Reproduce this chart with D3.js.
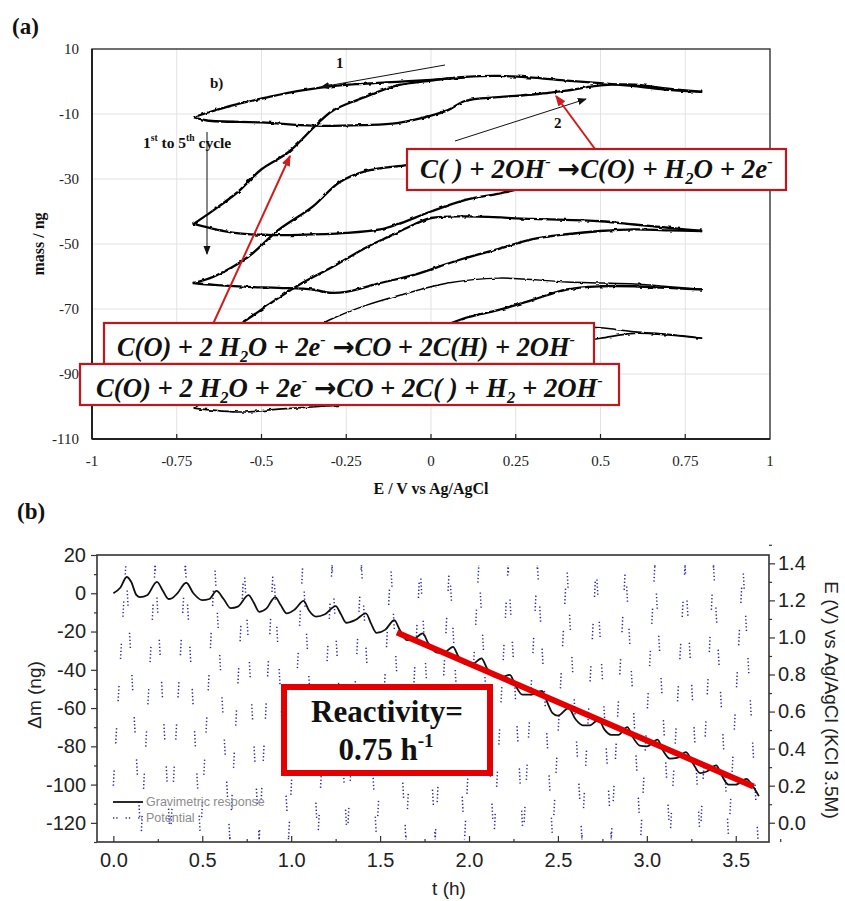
<!DOCTYPE html>
<html>
<head>
<meta charset="utf-8">
<script src="https://cdn.jsdelivr.net/npm/d3@7"></script>
<style>
  body { margin: 0; background: #fff; }
  svg { display: block; }
</style>
</head>
<body>
<svg id="fig" width="845" height="901"></svg>
<script>
// ---------------- panel (a): EQCM cyclic voltammetry, mass vs potential ----------------
const eTicksA = [-1, -0.75, -0.5, -0.25, 0, 0.25, 0.5, 0.75, 1];
const eTickLabelsA = ['-1', '-0.75', '-0.5', '-0.25', '0', '0.25', '0.5', '0.75', '1'];
const massTicksA = [-110, -90, -70, -50, -30, -10, 10];

// each sweep is a list of [E (V), mass (ng)]
const sweepStart = [[0.1,1.2],[0,0.5],[-0.1,-0.1],[-0.2,-0.7],[-0.29,-1.4],[-0.39,-2.9],[-0.48,-4.8],[-0.58,-7.2],[-0.65,-9.3],[-0.7,-11]];
const sweep1Up = [[-0.7,-11],[-0.66,-12],[-0.5,-12.6],[-0.35,-13.6],[-0.2,-13.4],[-0.1,-12.8],[0,-10.5],[0.05,-8.8],[0.1,-6],[0.2,-4.8],[0.3,-4],[0.4,-2.8],[0.5,-1.2],[0.6,-1],[0.7,-2.2],[0.8,-3.2]];
const sweep1Down = [[0.8,-3.2],[0.7,-2.6],[0.6,-1.4],[0.5,-0.5],[0.4,0.3],[0.3,1.2],[0.2,1.7],[0.1,1.4],[0,0.3],[-0.1,-1.2],[-0.2,-5],[-0.29,-9],[-0.34,-13.5],[-0.42,-21.7],[-0.5,-27],[-0.57,-34],[-0.64,-39.5],[-0.7,-43.8]];
const sweep2Up = [[-0.7,-43.8],[-0.58,-46.6],[-0.48,-47.2],[-0.39,-47.2],[-0.25,-46.6],[-0.15,-45.5],[-0.1,-44],[0,-40],[0.1,-36.5],[0.2,-34.5],[0.3,-32],[0.4,-28],[0.5,-25.5],[0.6,-24],[0.7,-23.5],[0.8,-24]];
const sweep2Down = [[0.8,-24],[0.6,-22.5],[0.4,-22],[0.2,-22.5],[0.05,-24],[-0.07,-25.7],[-0.19,-27.5],[-0.27,-31],[-0.35,-38.6],[-0.45,-45.7],[-0.54,-54],[-0.64,-60],[-0.7,-62]];
const sweep3Up = [[-0.7,-62],[-0.64,-62.6],[-0.54,-63.2],[-0.45,-63.5],[-0.35,-64],[-0.3,-65],[-0.25,-64.7],[-0.15,-62],[-0.05,-59.5],[0.08,-55],[0.2,-51.5],[0.3,-48.5],[0.4,-47],[0.5,-46],[0.6,-45.5],[0.7,-45.8],[0.8,-46]];
const sweep3Down = [[0.8,-46],[0.7,-45],[0.6,-44],[0.5,-43],[0.3,-42.3],[0.1,-41.5],[0,-42],[-0.05,-44],[-0.12,-47.5],[-0.19,-51],[-0.29,-57],[-0.39,-62.6],[-0.47,-68],[-0.555,-74],[-0.63,-78],[-0.7,-81]];
const sweep4Up = [[-0.7,-81],[-0.5,-83],[-0.3,-83],[-0.15,-80],[0,-76],[0.06,-74.3],[0.1,-72.8],[0.2,-70.3],[0.3,-67.2],[0.4,-64],[0.5,-63],[0.6,-63],[0.7,-63.5],[0.8,-64]];
const sweep4Down = [[0.8,-64],[0.6,-62.3],[0.5,-62],[0.4,-61.7],[0.2,-60.5],[0.05,-62],[-0.09,-65.7],[-0.19,-68.8],[-0.3,-73.4],[-0.4,-79],[-0.5,-86],[-0.6,-94],[-0.7,-100.5]];
const sweep5Up = [[-0.7,-100.5],[-0.56,-101.7],[-0.45,-100.8],[-0.33,-100],[-0.2,-99],[-0.05,-95],[0.1,-89],[0.25,-84],[0.4,-80.5],[0.5,-79],[0.6,-77.5],[0.7,-78],[0.8,-79]];
const sweep5Down = [[0.8,-79],[0.7,-77.8],[0.6,-77],[0.5,-75.8],[0.4,-75.3],[0.25,-75.5]];

// ---------------- panel (b): mass and potential vs time ----------------
const tTicksB = [0, 0.5, 1, 1.5, 2, 2.5, 3, 3.5];
const massTicksB = [-120, -100, -80, -60, -40, -20, 0, 20];
const eTicksB = [0, 0.2, 0.4, 0.6, 0.8, 1.0, 1.2, 1.4];

const gravTime = [0,0.04,0.075,0.1,0.13,0.15,0.19,0.245,0.28,0.31,0.33,0.36,0.41,0.45,0.5,0.54,0.58,0.62,0.66,0.7,0.76,0.79,0.82,0.86,0.91,0.94,0.975,1.02,1.07,1.1,1.14,1.19,1.25,1.28,1.31,1.36,1.42,1.45,1.48,1.53,1.58,1.61,1.65,1.69,1.74,1.77,1.82,1.86,1.91,1.94,1.98,2.02,2.07,2.1,2.14,2.18,2.23,2.26,2.3,2.35,2.41,2.44,2.47,2.5,2.56,2.6,2.64,2.68,2.73,2.76,2.8,2.84,2.89,2.92,2.96,3.0,3.06,3.09,3.13,3.17,3.22,3.26,3.3,3.34,3.39,3.42,3.46,3.5,3.56,3.59,3.63];
const gravMass = [0,3,8.5,6,-1,-2,-1,6,1,-3,-2.6,0,5.5,0,-3.6,-3,1.2,-3,-7.8,-7,-1,-5,-9.7,-8,-2,-6,-10.5,-8.5,-4,-9,-12.2,-11,-6.7,-11,-15.4,-14,-10.5,-16,-20.7,-19,-14,-19,-24.5,-24,-21,-26,-31,-31,-28,-33,-37,-37,-34,-39,-43.5,-44,-42.6,-48,-53,-53,-51,-57,-62.6,-64,-60,-66,-69,-69,-66,-71,-74,-74,-70,-75,-79.6,-80,-76.5,-82,-86.4,-86,-83,-89,-94,-93,-90,-95,-100,-100,-97,-100,-106];

// triangular potential program: turning points
const potentialTime = [0,0.07,0.155,0.235,0.32,0.405,0.49,0.57,0.655,0.735,0.82,0.9,0.985,1.065,1.15,1.23,1.315,1.395,1.48,1.56,1.645,1.725,1.81,1.89,1.975,2.055,2.14,2.22,2.305,2.385,2.47,2.55,2.635,2.715,2.8,2.88,2.965,3.045,3.13,3.215,3.3,3.375,3.46,3.54,3.625];
const potentialE = [0.2,1.39,-0.09,1.39,-0.09,1.39,-0.09,1.39,-0.09,1.39,-0.09,1.39,-0.09,1.39,-0.09,1.39,-0.09,1.39,-0.09,1.39,-0.09,1.39,-0.09,1.39,-0.09,1.39,-0.09,1.39,-0.09,1.39,-0.09,1.39,-0.09,1.39,-0.09,1.39,-0.09,1.39,-0.09,1.39,-0.09,1.39,-0.09,1.39,-0.09];

const fitStart = [1.595, -20.5];
const fitEnd = [3.6, -101];

// ---------------------------------------------------------------------
const svg = d3.select('#fig');
const SERIF = "'Liberation Serif', 'Times New Roman', serif";
const SANS = "'Liberation Sans', Arial, sans-serif";
const SYMBOL = "'DejaVu Sans', sans-serif";

const defs = svg.append('defs');
// rough trace look for the microbalance curves
const jitter = defs.append('filter').attr('id', 'jitter')
  .attr('filterUnits', 'userSpaceOnUse').attr('x', 80).attr('y', 40).attr('width', 700).attr('height', 410);
jitter.append('feTurbulence').attr('type', 'fractalNoise').attr('baseFrequency', 0.22)
  .attr('numOctaves', 1).attr('seed', 7).attr('result', 'n');
jitter.append('feDisplacementMap').attr('in', 'SourceGraphic').attr('in2', 'n')
  .attr('scale', 3).attr('xChannelSelector', 'R').attr('yChannelSelector', 'G');

function arrowHead(id, color, size) {
  defs.append('marker').attr('id', id).attr('viewBox', '0 0 10 10')
    .attr('refX', 9).attr('refY', 5).attr('markerWidth', size).attr('markerHeight', size)
    .attr('markerUnits', 'userSpaceOnUse').attr('orient', 'auto')
    .append('path').attr('d', 'M0,1 L10,5 L0,9 Z').attr('fill', color);
}
arrowHead('headBlack', '#111', 9);
arrowHead('headRed', '#d01c1c', 11);

// rich text: parts are strings or ['sup'|'sub'|'sym', text]
function richText(g, x, y, parts, size, attrs) {
  const t = g.append('text').attr('x', x).attr('y', y).attr('font-size', size);
  Object.entries(attrs).forEach(([k, v]) => t.attr(k, v));
  let shift = 0;
  parts.forEach(p => {
    if (typeof p === 'string') {
      t.append('tspan').attr('dy', -shift).text(p);
      shift = 0;
    } else if (p[0] === 'sym') {
      t.append('tspan').attr('dy', -shift).attr('font-family', SYMBOL)
        .attr('font-style', 'normal').attr('font-weight', 'bold').text(p[1]);
      shift = 0;
    } else {
      const s = p[0] === 'sup' ? -0.42 * size : 0.22 * size;
      t.append('tspan').attr('dy', s - shift).attr('font-size', size * 0.62).text(p[1]);
      shift = s;
    }
  });
  return t;
}
function fittedText(g, x, y, parts, width, attrs) {
  const probe = richText(g, x, y, parts, 24, attrs);
  const len = probe.node().getComputedTextLength();
  probe.remove();
  return richText(g, x, y, parts, 24 * width / len, attrs);
}

// ======================= panel (a) =======================
const A = { l: 92, r: 770, t: 49, b: 439 };
const xA = d3.scaleLinear().domain([-1, 1]).range([A.l, A.r]);
const yA = d3.scaleLinear().domain([-110, 10]).range([A.b, A.t]);
const gA = svg.append('g');

// grid
gA.append('g').selectAll('line').data(eTicksA.slice(1, -1)).join('line')
  .attr('x1', d => xA(d)).attr('x2', d => xA(d)).attr('y1', A.t).attr('y2', A.b)
  .attr('stroke', '#e2e2e2').attr('stroke-width', 1);
gA.append('g').selectAll('line').data(massTicksA.slice(1, -1)).join('line')
  .attr('y1', d => yA(d)).attr('y2', d => yA(d)).attr('x1', A.l).attr('x2', A.r)
  .attr('stroke', '#e2e2e2').attr('stroke-width', 1);

// curves
const cvLine = d3.line().x(d => xA(d[0])).y(d => yA(d[1])).curve(d3.curveCatmullRom.alpha(0.5));
const cvCurves = [
  { d: sweepStart, w: 2.3 }, { d: sweep1Up, w: 2.3 }, { d: sweep1Down, w: 2.3 },
  { d: sweep2Up, w: 2.3 }, { d: sweep2Down, w: 2.3 }, { d: sweep3Up, w: 2.3 },
  { d: sweep3Down, w: 2.3 }, { d: sweep4Up, w: 2.3 }, { d: sweep4Down, w: 1.5 },
  { d: sweep5Up, w: 1.6 }, { d: sweep5Down, w: 1.5 }
];
gA.append('g').attr('filter', 'url(#jitter)').selectAll('path').data(cvCurves).join('path')
  .attr('d', c => cvLine(c.d)).attr('fill', 'none').attr('stroke', '#000')
  .attr('stroke-width', c => c.w).attr('stroke-linejoin', 'round');

// frame and ticks
gA.append('rect').attr('x', A.l).attr('y', A.t).attr('width', A.r - A.l).attr('height', A.b - A.t)
  .attr('fill', 'none').attr('stroke', '#333').attr('stroke-width', 1.4);
gA.append('line').attr('x1', A.l).attr('x2', A.r).attr('y1', A.b).attr('y2', A.b).attr('stroke', '#222').attr('stroke-width', 2);
gA.append('line').attr('x1', A.l).attr('x2', A.l).attr('y1', A.t).attr('y2', A.b).attr('stroke', '#222').attr('stroke-width', 2);
gA.append('g').selectAll('line').data(eTicksA.slice(1, -1)).join('line')
  .attr('x1', d => xA(d)).attr('x2', d => xA(d)).attr('y1', A.b).attr('y2', A.b - 5)
  .attr('stroke', '#222').attr('stroke-width', 1.2);

gA.append('g').selectAll('text').data(eTicksA).join('text')
  .attr('x', d => xA(d)).attr('y', 466).attr('text-anchor', 'middle')
  .attr('font-family', SERIF).attr('font-size', 15).attr('fill', '#222')
  .text((d, i) => eTickLabelsA[i]);
gA.append('g').selectAll('text').data(massTicksA).join('text')
  .attr('x', 79).attr('y', d => yA(d) + 5).attr('text-anchor', 'end')
  .attr('font-family', SERIF).attr('font-size', 15).attr('fill', '#222')
  .text(d => d);

gA.append('text').attr('transform', `translate(44,${(A.t + A.b) / 2}) rotate(-90)`)
  .attr('text-anchor', 'middle').attr('font-family', SERIF).attr('font-weight', 'bold')
  .attr('font-size', 16).attr('fill', '#111').text('mass / ng');
gA.append('text').attr('x', (A.l + A.r) / 2).attr('y', 494).attr('text-anchor', 'middle')
  .attr('font-family', SERIF).attr('font-weight', 'bold').attr('font-size', 16).attr('fill', '#111')
  .text('E / V vs Ag/AgCl');

svg.append('text').attr('x', 12).attr('y', 34).attr('font-family', SERIF).attr('font-weight', 'bold')
  .attr('font-size', 23).attr('fill', '#111').text('(a)');

// annotations: scan direction arrows and labels
const boldSerif = { 'font-family': SERIF, 'font-weight': 'bold', fill: '#111' };
gA.append('line').attr('x1', 445).attr('y1', 65).attr('x2', 321).attr('y2', 87)
  .attr('stroke', '#111').attr('stroke-width', 1).attr('marker-end', 'url(#headBlack)');
gA.append('line').attr('x1', 455).attr('y1', 141).attr('x2', 586).attr('y2', 99)
  .attr('stroke', '#111').attr('stroke-width', 1).attr('marker-end', 'url(#headBlack)');
gA.append('line').attr('x1', 207).attr('y1', 132).attr('x2', 207).attr('y2', 254)
  .attr('stroke', '#111').attr('stroke-width', 1).attr('marker-end', 'url(#headBlack)');
richText(gA, 336, 68, ['1'], 15, boldSerif);
richText(gA, 554, 128, ['2'], 15, boldSerif);
richText(gA, 210, 88, ['b)'], 15, boldSerif);
richText(gA, 143, 148, ['1', ['sup', 'st'], ' to 5', ['sup', 'th'], ' cycle'], 15.5, boldSerif);

// reaction boxes
const eqStyle = { 'font-family': SERIF, 'font-weight': 'bold', 'font-style': 'italic', fill: '#111' };
function eqBox(x0, y0, x1, y1) {
  gA.append('rect').attr('x', x0).attr('y', y0).attr('width', x1 - x0).attr('height', y1 - y0)
    .attr('fill', '#fff').attr('stroke', '#c0161c').attr('stroke-width', 2.2);
}
gA.append('line').attr('x1', 595).attr('y1', 149).attr('x2', 556).attr('y2', 96)
  .attr('stroke', '#d01c1c').attr('stroke-width', 2).attr('marker-end', 'url(#headRed)');
gA.append('line').attr('x1', 213).attr('y1', 324).attr('x2', 290).attr('y2', 156)
  .attr('stroke', '#d01c1c').attr('stroke-width', 2).attr('marker-end', 'url(#headRed)');

const ARROW = ['sym', '\u2192'];
eqBox(407, 149, 786, 190);
fittedText(gA, 420, 178, ['C( ) + 2OH', ['sup', '-'], '  ', ARROW, 'C(O) + H', ['sub', '2'], 'O + 2e', ['sup', '-']], 353, eqStyle);
eqBox(104, 323, 594, 364);
fittedText(gA, 117, 356, ['C(O) + 2 H', ['sub', '2'], 'O + 2e', ['sup', '-'], ' ', ARROW, 'CO + 2C(H) + 2OH', ['sup', '-']], 458, eqStyle);
eqBox(80, 364, 619, 405);
fittedText(gA, 96, 397, ['C(O) + 2 H', ['sub', '2'], 'O + 2e', ['sup', '-'], ' ', ARROW, 'CO + 2C( ) + H', ['sub', '2'], ' + 2OH', ['sup', '-']], 507, eqStyle);

// ======================= panel (b) =======================
const B = { l: 97, r: 769, t: 555, b: 842 };
const xB = d3.scaleLinear().domain([-0.092, 3.687]).range([B.l, B.r]);
const yB = d3.scaleLinear().domain([-130, 20]).range([B.b, B.t]);
const yE = d3.scaleLinear().domain([-0.104, 1.445]).range([B.b, B.t]);
const gB = svg.append('g');

defs.append('clipPath').attr('id', 'clipB').append('rect')
  .attr('x', B.l).attr('y', B.t).attr('width', B.r - B.l).attr('height', B.b - B.t);
const plotB = gB.append('g').attr('clip-path', 'url(#clipB)');

// potential (dotted), one path per sweep leg so the dot groups fall at different heights
const potLegs = d3.range(potentialTime.length - 1);
plotB.append('g').selectAll('line').data(potLegs).join('line')
  .attr('x1', i => xB(potentialTime[i])).attr('y1', i => yE(potentialE[i]))
  .attr('x2', i => xB(potentialTime[i + 1])).attr('y2', i => yE(potentialE[i + 1]))
  .attr('stroke', '#2626b8').attr('stroke-width', 1.5)
  .attr('stroke-dasharray', '1.3 2.2 1.3 2.2 1.3 2.2 1.3 2.2 1.3 27')
  .attr('stroke-dashoffset', i => (i * 17) % 41);

// gravimetric response
const gravLine = d3.line().x((d, i) => xB(gravTime[i])).y(d => yB(d)).curve(d3.curveMonotoneX);
plotB.append('path').attr('d', gravLine(gravMass)).attr('fill', 'none')
  .attr('stroke', '#111').attr('stroke-width', 1.8);

// linear fit
plotB.append('line').attr('x1', xB(fitStart[0])).attr('y1', yB(fitStart[1]))
  .attr('x2', xB(fitEnd[0])).attr('y2', yB(fitEnd[1]))
  .attr('stroke', '#e40000').attr('stroke-width', 6);

// axes
function styleAxis(g) {
  g.select('.domain').remove();
  g.selectAll('.tick line').attr('stroke', '#333').attr('stroke-width', 1.2);
  g.selectAll('.tick text').attr('font-family', SANS).attr('font-size', 20).attr('fill', '#222');
}
const plain = d => String(d);
gB.append('g').attr('transform', `translate(${B.l},0)`)
  .call(d3.axisLeft(yB).tickValues(massTicksB).tickSize(6).tickPadding(5).tickFormat(plain)).call(styleAxis);
gB.append('g').attr('transform', `translate(${B.l},0)`)
  .call(d3.axisLeft(yB).tickValues(massTicksB.map(v => v + 10).filter(v => v < 20).concat([-130])).tickSize(3).tickFormat('')).call(styleAxis);
gB.append('g').attr('transform', `translate(0,${B.b})`)
  .call(d3.axisBottom(xB).tickValues(tTicksB).tickSize(-6).tickPadding(11).tickFormat(d => d.toFixed(1))).call(styleAxis);
gB.append('g').attr('transform', `translate(0,${B.b})`)
  .call(d3.axisBottom(xB).tickValues(tTicksB.map(v => v + 0.25)).tickSize(-3).tickFormat('')).call(styleAxis);
gB.append('g').attr('transform', `translate(${B.r},0)`)
  .call(d3.axisRight(yE).tickValues(eTicksB).tickSize(6).tickPadding(3).tickFormat(d => d.toFixed(1))).call(styleAxis);
gB.append('g').attr('transform', `translate(${B.r},0)`)
  .call(d3.axisRight(yE).tickValues(eTicksB.map(v => v + 0.1)).tickSize(3).tickFormat('')).call(styleAxis);

gB.append('rect').attr('x', B.l).attr('y', B.t).attr('width', B.r - B.l).attr('height', B.b - B.t)
  .attr('fill', 'none').attr('stroke', '#333').attr('stroke-width', 1.6);

gB.append('text').attr('transform', `translate(41,695) rotate(-90)`).attr('text-anchor', 'middle')
  .attr('font-family', SANS).attr('font-size', 19).attr('fill', '#222').text('\u0394m (ng)');
gB.append('text').attr('transform', `translate(825,700) rotate(90)`).attr('text-anchor', 'middle')
  .attr('font-family', SANS).attr('font-size', 19).attr('fill', '#222').text('E (V) vs Ag/AgCl (KCl 3.5M)');
gB.append('text').attr('x', 449).attr('y', 895).attr('text-anchor', 'middle')
  .attr('font-family', SANS).attr('font-size', 19).attr('fill', '#222').text('t (h)');

svg.append('text').attr('x', 17).attr('y', 519).attr('font-family', SERIF).attr('font-weight', 'bold')
  .attr('font-size', 23).attr('fill', '#111').text('(b)');

// legend
gB.append('line').attr('x1', 113).attr('x2', 143).attr('y1', 802).attr('y2', 802)
  .attr('stroke', '#111').attr('stroke-width', 1.8);
gB.append('line').attr('x1', 113).attr('x2', 142).attr('y1', 818).attr('y2', 818)
  .attr('stroke', '#2626b8').attr('stroke-width', 1.4).attr('stroke-dasharray', '1.3 2 1.3 8');
gB.append('text').attr('x', 146).attr('y', 806).attr('font-family', SANS).attr('font-size', 12.5)
  .attr('fill', '#8c8c8c').text('Gravimetric response');
gB.append('text').attr('x', 146).attr('y', 822).attr('font-family', SANS).attr('font-size', 12.5)
  .attr('fill', '#8c8c8c').text('Potential');

// reactivity box
gB.append('rect').attr('x', 284).attr('y', 687).attr('width', 206).attr('height', 86)
  .attr('fill', '#fff').attr('stroke', '#e40000').attr('stroke-width', 6);
richText(gB, 387, 722, ['Reactivity='], 31, { 'font-family': SERIF, 'font-weight': 'bold', fill: '#111', 'text-anchor': 'middle' });
richText(gB, 386, 760, ['0.75 h', ['sup', '-1']], 31, { 'font-family': SERIF, 'font-weight': 'bold', fill: '#111', 'text-anchor': 'middle' });
</script>
</body>
</html>
